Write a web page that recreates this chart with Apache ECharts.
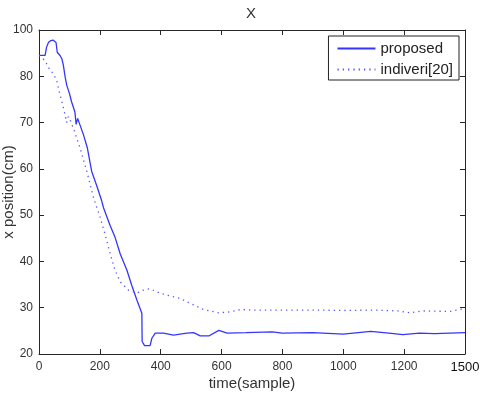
<!DOCTYPE html>
<html>
<head>
<meta charset="utf-8">
<script src="https://cdn.jsdelivr.net/npm/echarts@6/dist/echarts.min.js"></script>
<style>html,body{margin:0;padding:0;background:#fff}#c{width:480px;height:393px}</style>
</head>
<body>
<div id="c"></div>
<script>
// Data (x in samples, y in cm, true axis scale)
const proposedX = [0, 20, 25, 31, 38, 47, 56, 60, 69, 75, 80, 86, 91, 100, 107, 118, 122, 127, 132, 146, 159, 173, 190, 206, 212, 234, 250, 267, 289, 305, 322, 338, 339, 347, 365, 371, 382, 409, 442, 486, 508, 530, 558, 591, 618, 680, 766, 800, 900, 1000, 1090, 1150, 1196, 1250, 1300, 1400];
const proposedY = [84.5, 84.5, 86.3, 87.3, 87.7, 87.8, 87.3, 85.2, 84.5, 83.8, 82.4, 79.8, 78.1, 76.3, 74.5, 72.3, 69.6, 70.9, 70.8, 67.4, 64.5, 59.5, 56.3, 53.1, 51.6, 47.7, 45.2, 41.6, 38.1, 34.8, 31.6, 28.8, 22.7, 21.8, 21.8, 23.4, 24.5, 24.5, 24.1, 24.5, 24.6, 23.9, 23.9, 25.1, 24.5, 24.6, 24.8, 24.5, 24.6, 24.3, 24.9, 24.5, 24.2, 24.5, 24.4, 24.6];
const indiveriX = [0, 20, 31, 47, 58, 67, 78, 86, 91, 96, 102, 113, 135, 157, 179, 201, 217, 234, 250, 267, 294, 322, 343, 365, 388, 421, 464, 508, 541, 591, 629, 662, 700, 800, 900, 1000, 1100, 1180, 1220, 1260, 1350, 1400];
const indiveriY = [84.5, 83.4, 81.9, 80.5, 79.1, 76.6, 73.8, 71.6, 70.0, 71.3, 70.6, 68.8, 64.5, 59.5, 53.8, 49.5, 45.9, 41.6, 38.1, 35.6, 33.8, 33.2, 33.8, 34.1, 33.4, 32.7, 32.0, 30.6, 29.6, 28.9, 29.1, 29.6, 29.5, 29.5, 29.5, 29.4, 29.5, 29.3, 28.9, 29.3, 29.2, 29.8];

// Tick positions and the labels printed at them (as in the reference)
const xTickValues = [0, 200, 400, 600, 800, 1000, 1200, 1400];
const xTickLabels = ['0', '200', '400', '600', '800', '1000', '1200', '1500'];
const yTickValues = [20, 30, 40, 50, 60, 70, 80, 90];
const yTickLabels = ['20', '30', '40', '50', '60', '70', '80', '100'];

const seriesNames = ['proposed', 'indiveri[20]'];

const FONT = '"Liberation Sans", Arial, sans-serif';
const AX = '#262626';

function zip(a, b) { return a.map((v, i) => [v, b[i]]); }

const chart = echarts.init(document.getElementById('c'), null, {renderer: 'canvas'});
const commonX = {
  type: 'value', min: 0, max: 1400, interval: 200,
  splitLine: {show: false},
  axisLine: {show: true, onZero: false, lineStyle: {color: AX, width: 1}},
  axisTick: {show: true, inside: true, length: 5, lineStyle: {color: AX}}
};
const commonY = {
  type: 'value', min: 20, max: 90, interval: 10,
  splitLine: {show: false},
  axisLine: {show: true, onZero: false, lineStyle: {color: AX, width: 1}},
  axisTick: {show: true, inside: true, length: 5, lineStyle: {color: AX}}
};
chart.setOption({
  backgroundColor: '#fff',
  animation: false,
  title: {
    text: 'X', left: 246, top: 6, padding: 0,
    textStyle: {fontSize: 15, fontWeight: 'normal', color: '#333', fontFamily: FONT}
  },
  legend: {
    data: seriesNames, orient: 'vertical', right: 21, top: 36,
    backgroundColor: '#fff', borderColor: '#222', borderWidth: 1, borderRadius: 0,
    padding: [5, 6, 3, 8], itemGap: 6, itemWidth: 38, itemHeight: 14, itemTextGap: 5,
    itemStyle: {opacity: 0, borderWidth: 0},
    textStyle: {fontSize: 15, color: '#222', fontFamily: FONT}
  },
  grid: {left: 39, right: 15, top: 30, bottom: 39, containLabel: false, outerBoundsMode: 'none'},
  xAxis: [
    Object.assign({}, commonX, {
      position: 'bottom',
      name: 'time(sample)', nameLocation: 'middle', nameGap: 22, nameMoveOverlap: false,
      nameTextStyle: {fontSize: 15, color: '#333', fontFamily: FONT},
      axisLabel: {
        show: true, margin: 7, fontSize: 12, color: '#333', fontFamily: FONT,
        showMinLabel: true, showMaxLabel: true,
        formatter: function (v) {
          const i = xTickValues.indexOf(v);
          if (i < 0) return '';
          return i === xTickLabels.length - 1 ? '{last|' + xTickLabels[i] + '}' : xTickLabels[i];
        },
        rich: {last: {fontSize: 13, color: '#111', fontFamily: FONT}}
      }
    }),
    Object.assign({}, commonX, {position: 'top', axisLabel: {show: false}})
  ],
  yAxis: [
    Object.assign({}, commonY, {
      position: 'left',
      name: 'x position(cm)', nameLocation: 'middle', nameGap: 23, nameMoveOverlap: false,
      nameTextStyle: {fontSize: 15, color: '#333', fontFamily: FONT},
      axisLabel: {
        show: true, margin: 6, fontSize: 12, color: '#333', fontFamily: FONT,
        showMinLabel: true, showMaxLabel: true,
        formatter: function (v) {
          const i = yTickValues.indexOf(v);
          return i < 0 ? '' : yTickLabels[i];
        }
      }
    }),
    Object.assign({}, commonY, {position: 'right', axisLabel: {show: false}})
  ],
  series: [
    {
      name: seriesNames[0], type: 'line', data: zip(proposedX, proposedY),
      symbol: 'none', smooth: false, xAxisIndex: 0, yAxisIndex: 0,
      lineStyle: {color: '#3535ff', width: 1.3, type: 'solid'},
      itemStyle: {color: '#3535ff'}
    },
    {
      name: seriesNames[1], type: 'line', data: zip(indiveriX, indiveriY),
      symbol: 'none', smooth: false, xAxisIndex: 0, yAxisIndex: 0,
      lineStyle: {color: '#5555ff', width: 1.3, type: [1.3, 4]},
      itemStyle: {color: '#5555ff'}
    }
  ]
});
</script>
</body>
</html>
